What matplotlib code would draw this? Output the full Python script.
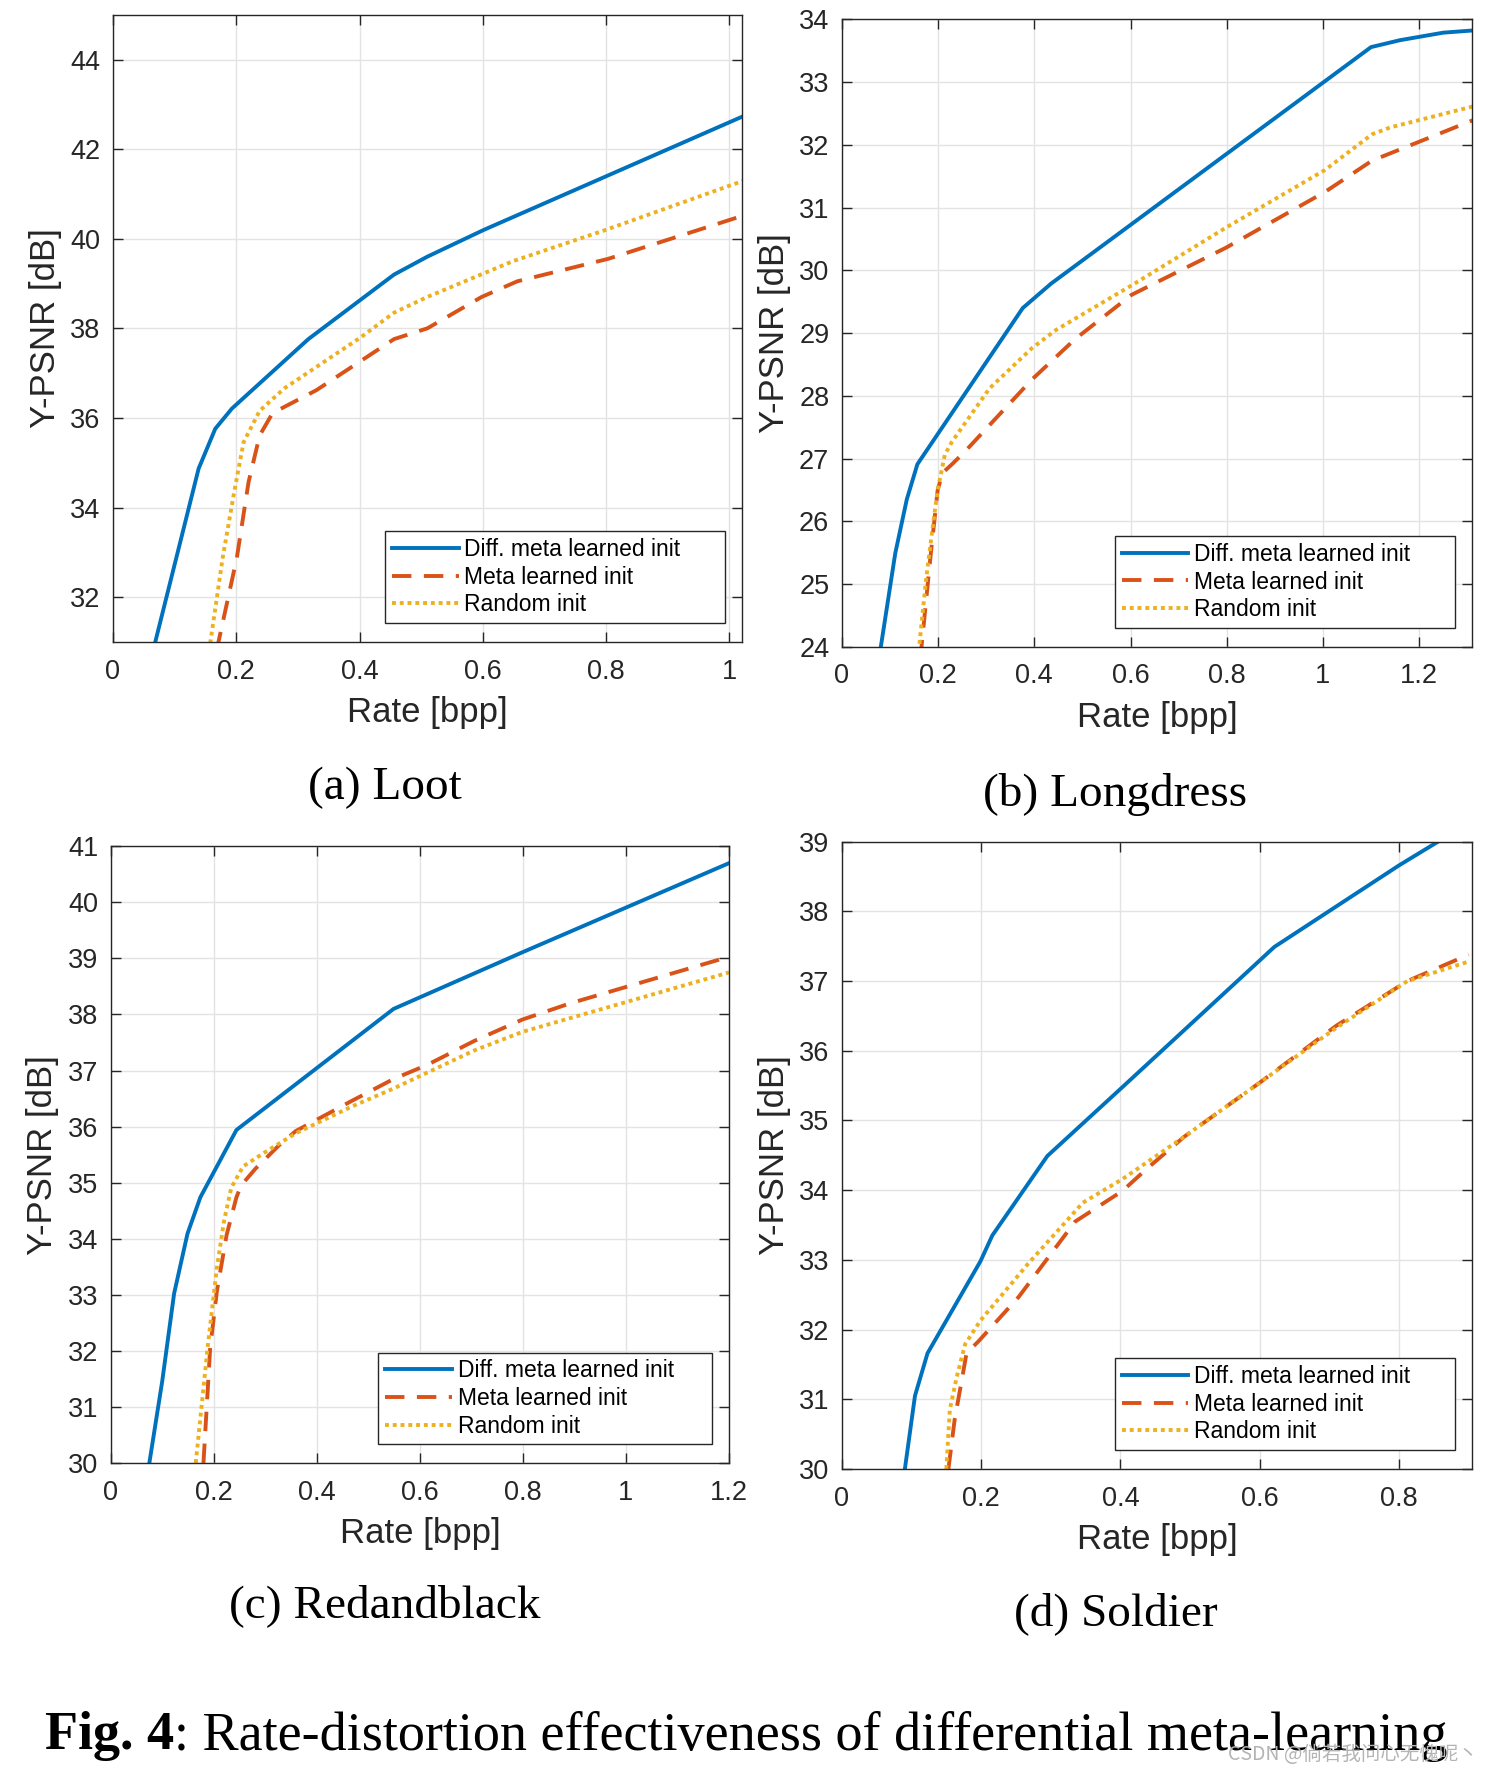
import numpy as np
import matplotlib
matplotlib.use("Agg")
import matplotlib.pyplot as plt
from matplotlib.ticker import FuncFormatter

# ---- data (rate in bpp, Y-PSNR in dB) ----
series_labels = ["Diff. meta learned init", "Meta learned init", "Random init"]
panel_titles = ["(a) Loot", "(b) Longdress", "(c) Redandblack", "(d) Soldier"]

# (a) Loot
loot_diff_x = [0.065, 0.139, 0.166, 0.193, 0.317, 0.456, 0.51, 0.602, 1.03]
loot_diff_y = [30.8, 34.87, 35.76, 36.21, 37.76, 39.2, 39.6, 40.2, 42.78]
loot_meta_x = [0.168, 0.201, 0.22, 0.238, 0.259, 0.33, 0.456, 0.51, 0.598, 0.656, 0.803, 1.03]
loot_meta_y = [30.8, 32.88, 34.57, 35.61, 36.11, 36.62, 37.76, 38.0, 38.7, 39.05, 39.55, 40.55]
loot_rand_x = [0.156, 0.178, 0.197, 0.212, 0.238, 0.278, 0.402, 0.456, 0.51, 0.649, 0.8, 1.03]
loot_rand_y = [30.8, 32.88, 34.37, 35.46, 36.16, 36.66, 37.8, 38.35, 38.7, 39.5, 40.2, 41.33]

# (b) Longdress
long_diff_x = [0.075, 0.111, 0.135, 0.157, 0.376, 0.435, 1.1, 1.16, 1.25, 1.32]
long_diff_y = [23.7, 25.49, 26.35, 26.91, 29.40, 29.79, 33.56, 33.67, 33.79, 33.83]
long_meta_x = [0.163, 0.184, 0.199, 0.209, 0.229, 0.258, 0.395, 0.484, 0.602, 0.798, 1.004, 1.102, 1.32]
long_meta_y = [23.8, 25.42, 26.49, 26.77, 26.91, 27.13, 28.26, 28.9, 29.61, 30.36, 31.25, 31.75, 32.42]
long_rand_x = [0.158, 0.175, 0.189, 0.199, 0.214, 0.229, 0.307, 0.395, 0.445, 0.602, 0.798, 1.004, 1.102, 1.14, 1.32]
long_rand_y = [23.8, 25.07, 25.92, 26.49, 27.06, 27.27, 28.12, 28.76, 29.05, 29.76, 30.68, 31.6, 32.17, 32.28, 32.63]

# (c) Redandblack
red_diff_x = [0.075, 0.1, 0.123, 0.149, 0.174, 0.244, 0.549, 0.799, 1.2]
red_diff_y = [30.0, 31.46, 33.02, 34.09, 34.74, 35.94, 38.1, 39.11, 40.70]
red_meta_x = [0.18, 0.193, 0.206, 0.225, 0.244, 0.253, 0.281, 0.327, 0.359, 0.466, 0.549, 0.614, 0.706, 0.799, 0.892, 1.2]
red_meta_y = [30.0, 32.05, 33.06, 34.07, 34.74, 34.95, 35.25, 35.67, 35.92, 36.45, 36.85, 37.1, 37.53, 37.91, 38.2, 39.03]
red_rand_x = [0.165, 0.188, 0.206, 0.22, 0.234, 0.257, 0.299, 0.359, 0.466, 0.549, 0.706, 0.799, 1.2]
red_rand_y = [30.0, 32.05, 33.48, 34.32, 34.91, 35.29, 35.54, 35.88, 36.35, 36.68, 37.36, 37.69, 38.75]

# (d) Soldier
sold_diff_x = [0.0905, 0.105, 0.123, 0.199, 0.216, 0.295, 0.403, 0.621, 0.8, 0.856, 0.91]
sold_diff_y = [30.0, 31.05, 31.66, 32.98, 33.35, 34.49, 35.48, 37.49, 38.66, 39.0, 39.35]
sold_meta_x = [0.153, 0.162, 0.173, 0.179, 0.196, 0.254, 0.335, 0.403, 0.437, 0.492, 0.601, 0.71, 0.812, 0.9]
sold_meta_y = [30.0, 30.71, 31.32, 31.66, 31.83, 32.47, 33.55, 33.99, 34.3, 34.77, 35.55, 36.36, 37.0, 37.38]
sold_rand_x = [0.15, 0.155, 0.165, 0.177, 0.199, 0.267, 0.346, 0.403, 0.492, 0.601, 0.71, 0.812, 0.9]
sold_rand_y = [30.0, 30.85, 31.32, 31.79, 32.13, 32.94, 33.82, 34.16, 34.77, 35.55, 36.33, 37.0, 37.28]

# MATLAB default colours
c_blue = "#0072BD"
c_red = "#D95319"
c_yel = "#EDB120"

plt.rcParams['font.family'] = ['Liberation Sans', 'DejaVu Sans']

fig = plt.figure(figsize=(14.9, 17.72), dpi=100)

# axes rectangles in figure fraction [left, bottom, width, height]
rects = [
    [0.0758, 0.6377, 0.422, 0.354],
    [0.565, 0.635, 0.423, 0.354],
    [0.0743, 0.1744, 0.415, 0.348],
    [0.565, 0.171, 0.423, 0.354],
]

panels = [
    (loot_diff_x, loot_diff_y, loot_meta_x, loot_meta_y, loot_rand_x, loot_rand_y,
     (0, 1.02), (31, 45), np.arange(0, 1.01, 0.2), np.arange(32, 45, 2)),
    (long_diff_x, long_diff_y, long_meta_x, long_meta_y, long_rand_x, long_rand_y,
     (0, 1.31), (24, 34), np.arange(0, 1.21, 0.2), np.arange(24, 35, 1)),
    (red_diff_x, red_diff_y, red_meta_x, red_meta_y, red_rand_x, red_rand_y,
     (0, 1.2), (30, 41), np.arange(0, 1.21, 0.2), np.arange(30, 42, 1)),
    (sold_diff_x, sold_diff_y, sold_meta_x, sold_meta_y, sold_rand_x, sold_rand_y,
     (0, 0.905), (30, 39), np.arange(0, 0.81, 0.2), np.arange(30, 40, 1)),
]

fmt = FuncFormatter(lambda v, p: "%g" % round(v, 3))

for rect, pan in zip(rects, panels):
    dx, dy, mx, my, rx, ry, xlim, ylim, xt, yt = pan
    ax = fig.add_axes(rect)
    ax.plot(dx, dy, color=c_blue, lw=2.8, label=series_labels[0])
    ax.plot(mx, my, color=c_red, lw=2.8, linestyle=(0, (5, 3.2)), label=series_labels[1])
    ax.plot(rx, ry, color=c_yel, lw=2.8, linestyle=(0, (1, 1)), label=series_labels[2])
    ax.set_xlim(*xlim)
    ax.set_ylim(*ylim)
    ax.set_xticks(xt)
    ax.set_yticks(yt)
    ax.xaxis.set_major_formatter(fmt)
    ax.yaxis.set_major_formatter(fmt)
    ax.grid(True, color="#e3e3e3", lw=1.0)
    ax.set_axisbelow(True)
    for s in ax.spines.values():
        s.set_color("#262626")
        s.set_linewidth(1.0)
    ax.tick_params(direction='in', top=True, right=True, length=7, width=1,
                   colors="#262626", labelsize=19.5)
    ax.tick_params(axis='x', pad=12)
    ax.tick_params(axis='y', pad=9)
    ax.set_xlabel("Rate [bpp]", fontsize=25, color="#262626", labelpad=8)
    ax.set_ylabel("Y-PSNR [dB]", fontsize=25, color="#262626", labelpad=6)
    # MATLAB-style legend box: wider than its text, lower right
    leg = ax.legend(loc='lower left', bbox_to_anchor=(0.433, 0.03, 0.54, 0),
                    mode='expand', fontsize=16.5, frameon=True, fancybox=False,
                    handlelength=2.9, handletextpad=0.25, labelspacing=0.2,
                    borderpad=0.3, borderaxespad=0)
    leg.get_frame().set_edgecolor("#262626")
    leg.get_frame().set_linewidth(1.0)
    leg.get_frame().set_alpha(1.0)

# sub-captions
cap_pos = [(385, 788), (1115, 794), (385, 1606), (1116, 1614)]
for (px, py), t in zip(cap_pos, panel_titles):
    fig.text(px / 1490, 1 - py / 1772, t, ha='center', va='center',
             fontsize=34, family=['Liberation Serif', 'DejaVu Serif'])

# figure caption: bold "Fig. 4" followed by regular text
t1 = fig.text(45 / 1490, 1 - 1736 / 1772, "Fig. 4", ha='left', va='center',
              fontsize=39, fontweight='bold', family=['Liberation Serif', 'DejaVu Serif'])
fig.canvas.draw()
bb = t1.get_window_extent()
fig.text(bb.x1 / 1490, 1 - 1736 / 1772, ": Rate-distortion effectiveness of differential meta-learning",
         ha='left', va='center', fontsize=39, family=['Liberation Serif', 'DejaVu Serif'])

# watermark
fig.text(1478 / 1490, 1 - 1754 / 1772, "CSDN @倘若我问心无愧呢丶", ha='right', va='center',
         fontsize=14, color="#b4b4b4", family=['Noto Sans CJK SC', 'DejaVu Sans'])

fig.savefig("out.png", dpi=100)
